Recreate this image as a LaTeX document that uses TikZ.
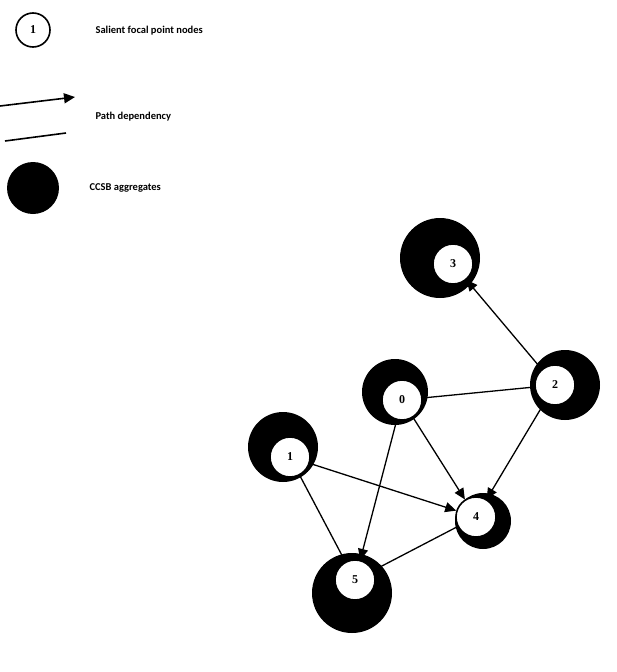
\documentclass[tikz,border=0pt]{standalone}
\usepackage{fontspec}
\setmainfont{Carlito}
\newfontfamily\numfont{Liberation Serif}
\usetikzlibrary{arrows.meta}
\begin{document}
\begin{tikzpicture}[x=1pt,y=-1pt,
  blob/.style={circle,fill=black,draw=none,inner sep=0pt},
  fp/.style={circle,draw=black,line width=1.6pt,fill=white,minimum size=40pt,inner sep=0pt,font=\numfont\bfseries\fontsize{12}{12}\selectfont},
  lbl/.style={anchor=west,font=\bfseries\fontsize{10.5}{12}\selectfont},
  arr/.style={line width=1.3pt,-{Triangle[length=11pt,width=10pt]}},
  ln/.style={line width=1.3pt}]
\useasboundingbox (0,0) rectangle (616,672);
% legend
\node[fp,minimum size=34pt] (lg1) at (33,30) {1};
\node[lbl] (t1) at (92,31) {Salient focal point nodes};
\coordinate (a0) at (0,106); \coordinate (a1) at (75,97);
\draw[arr,line width=1.6pt] (a0) -- (a1);
\node[lbl] (t2) at (92,117) {Path dependency};
\coordinate (b0) at (5,141); \coordinate (b1) at (66,133);
\draw[ln,line width=1.6pt] (b0) -- (b1);
\node[blob,minimum size=52pt] (lgb) at (33,188) {};
\node[lbl] (t3) at (86,188) {CCSB aggregates};
% blobs
\node[blob,minimum size=80pt] (b3) at (440,258) {};
\node[blob,minimum size=66pt] (b0b) at (395,392) {};
\node[blob,minimum size=70pt] (b2) at (565,385) {};
\node[blob,minimum size=70pt] (b1b) at (283,447) {};
\node[blob,minimum size=56pt] (b4) at (483,521) {};
\node[blob,minimum size=80pt] (b5) at (352,593) {};
% nodes
\node[fp] (n3) at (453,264) {3};
\node[fp] (n0) at (402,400) {0};
\node[fp] (n2) at (555,385) {2};
\node[fp] (n1) at (290,457) {1};
\node[fp] (n4) at (476,517) {4};
\node[fp] (n5) at (355,580) {5};
% edges
\draw[arr] (n2) -- (n3);
\draw[ln] (n0) -- (n2);
\draw[arr] (n2) -- (n4);
\draw[arr] (n0) -- (n4);
\draw[arr] (n0) -- (n5);
\draw[arr] (n1) -- (n4);
\draw[ln] (n1) -- (n5);
\draw[ln] (n4) -- (n5);
\end{tikzpicture}
\end{document}
